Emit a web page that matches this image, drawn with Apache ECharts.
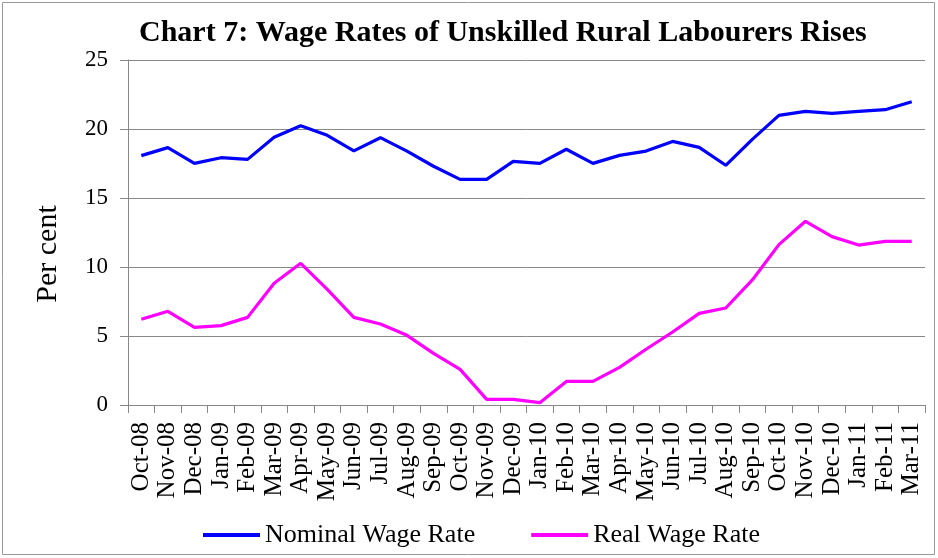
<!DOCTYPE html>
<html><head><meta charset="utf-8">
<script src="https://cdn.jsdelivr.net/npm/echarts@6/dist/echarts.min.js"></script>
<style>html,body{margin:0;padding:0;background:#fff}#c{width:938px;height:558px}</style>
</head><body><div id="c"></div>
<script>
const categories = ['Oct-08','Nov-08','Dec-08','Jan-09','Feb-09','Mar-09','Apr-09','May-09','Jun-09','Jul-09','Aug-09','Sep-09','Oct-09','Nov-09','Dec-09','Jan-10','Feb-10','Mar-10','Apr-10','May-10','Jun-10','Jul-10','Aug-10','Sep-10','Oct-10','Nov-10','Dec-10','Jan-11','Feb-11','Mar-11'];
const nominalWageRate = [18.07,18.65,17.51,17.92,17.8,19.4,20.24,19.54,18.41,19.37,18.4,17.3,16.35,16.35,17.65,17.51,18.53,17.51,18.09,18.4,19.1,18.67,17.37,19.25,20.99,21.28,21.13,21.28,21.4,21.98];
const realWageRate = [6.21,6.79,5.63,5.75,6.35,8.82,10.27,8.38,6.35,5.87,5.05,3.74,2.58,0.41,0.41,0.17,1.71,1.71,2.73,4.04,5.29,6.64,7.03,9.06,11.62,13.31,12.2,11.59,11.86,11.86];
const yTicks = [0,5,10,15,20,25];
const font = '"Liberation Serif","Times New Roman",serif';
const chart = echarts.init(document.getElementById('c'));
chart.setOption({
  animation:false,
  graphic:[
    {type:'rect',shape:{x:2.5,y:2.5,width:932,height:552},style:{fill:'none',stroke:'#999',lineWidth:1}},
    {type:'text',x:48,y:254,rotation:Math.PI/2,
      style:{text:'Per cent',font:'30px '+font,fill:'#000',textAlign:'center',textVerticalAlign:'middle'}}
  ],
  title:{text:'Chart 7: Wage Rates of Unskilled Rural Labourers Rises',left:134,top:13,
    textStyle:{fontFamily:font,fontWeight:'bold',fontSize:30,color:'#000'}},
  legend:{top:517,left:198,itemWidth:57,itemHeight:4,itemGap:56,icon:'rect',
    textStyle:{fontFamily:font,fontSize:26,color:'#000'},
    data:['Nominal Wage Rate','Real Wage Rate']},
  grid:{left:128,right:13,top:60,bottom:153,containLabel:false},
  xAxis:{type:'category',data:categories,boundaryGap:true,
    axisLine:{lineStyle:{color:'#888',width:1}},
    axisTick:{show:true,alignWithLabel:false,length:8,lineStyle:{color:'#888'}},
    axisLabel:{rotate:90,interval:0,fontFamily:font,fontSize:25,color:'#000',margin:17}},
  yAxis:{type:'value',min:0,max:25,interval:5,
    axisLine:{show:true,lineStyle:{color:'#888'}},
    axisTick:{show:true,length:8,lineStyle:{color:'#888'}},
    axisLabel:{fontFamily:font,fontSize:23,color:'#000',margin:20,
      formatter:v=>yTicks.includes(v)?String(v):''},
    splitLine:{lineStyle:{color:'#888',width:1}}},
  series:[
    {name:'Nominal Wage Rate',type:'line',data:nominalWageRate,symbol:'none',
      lineStyle:{color:'#0000ff',width:3.2},itemStyle:{color:'#0000ff'}},
    {name:'Real Wage Rate',type:'line',data:realWageRate,symbol:'none',
      lineStyle:{color:'#ff00ff',width:3.2},itemStyle:{color:'#ff00ff'}}
  ]
});
</script></body></html>
